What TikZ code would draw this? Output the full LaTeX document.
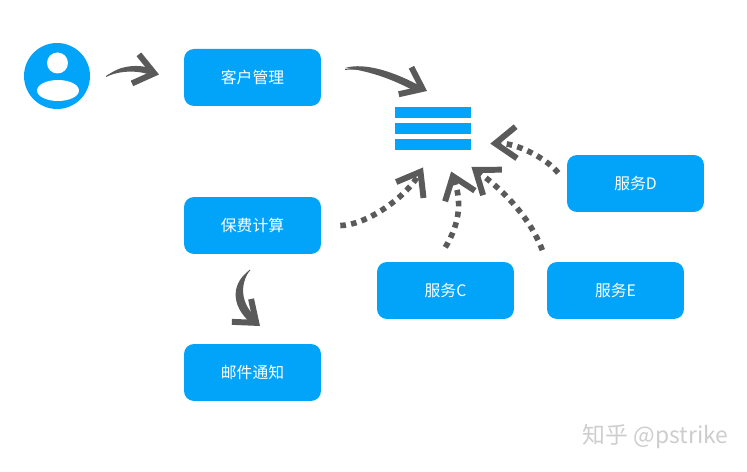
\documentclass[tikz,border=0pt]{standalone}
\usepackage{fontspec}
\usepackage{tikz}
\usetikzlibrary{arrows.meta,shapes.geometric}
\newfontfamily\cjk{Noto Sans CJK SC}
\definecolor{boxblue}{HTML}{02A4FA}
\definecolor{ink}{HTML}{5A5A5A}
\definecolor{markgray}{HTML}{CDCDCD}
\tikzset{
  servicebox/.style={fill=boxblue,rounded corners=0.2cm,minimum width=2.74cm,minimum height=1.14cm,inner sep=0pt,text=white,font=\cjk\fontsize{9}{11}\selectfont},
  barnode/.style={fill=boxblue,minimum width=1.52cm,minimum height=0.22cm,inner sep=0pt},
  dotarrow/.style={draw=ink,line width=3.2pt,dash pattern=on 3.2pt off 3pt,-{Straight Barb[length=12pt,width=18pt,line width=3.4pt]}},
  inkarrow/.style={draw=ink,line width=0.5pt,-{Straight Barb[length=11pt,width=17pt,line width=3.4pt]}},
  inkwedge/.style={fill=ink},
}
\begin{document}
\begin{tikzpicture}[x=0.02cm,y=-0.02cm]
\useasboundingbox (0,0) rectangle (747,472);
% user icon
\node[circle,fill=boxblue,minimum size=1.32cm,inner sep=0pt] (user) at (57,76) {};
\node[circle,fill=white,minimum size=0.42cm,inner sep=0pt] (head) at (57.5,63) {};
\node[ellipse,fill=white,minimum width=0.84cm,minimum height=0.42cm,inner sep=0pt] (body) at (58,90.5) {};
% boxes
\node[servicebox] (custbox) at (252.5,77.5) {客户管理};
\node[servicebox] (feebox) at (252.5,225.5) {保费计算};
\node[servicebox] (mailbox) at (252.5,372.5) {邮件通知};
\node[servicebox] (boxc) at (445.5,290.5) {服务C};
\node[servicebox] (boxe) at (615.5,290.5) {服务E};
\node[servicebox] (boxd) at (635.5,183.5) {服务D};
% queue
\node[barnode] (bar1) at (433,112.5) {};
\node[barnode] (bar2) at (433,128.5) {};
\node[barnode] (bar3) at (433,144.5) {};
% solid arrows
\coordinate (usertail) at (106,76.5);
\coordinate (custtip) at (159,74.5);
\draw[inkarrow] (usertail) .. controls (119,67.5) and (138,69.5) .. (custtip);
\fill[inkwedge] (106,77) .. controls (118,65) and (140,63) .. (155,70) -- (153,76) .. controls (140,70) and (120,70) .. cycle;
\coordinate (custtail) at (345,69.5);
\coordinate (quetip) at (427,91);
\draw[inkarrow] (custtail) .. controls (365,67) and (395,76) .. (quetip);
\fill[inkwedge] (345,68) .. controls (365,62) and (395,72) .. (422,87) -- (418,93) .. controls (395,80) and (370,71) .. cycle;
\coordinate (feetail) at (250,270);
\coordinate (mailtip) at (260,326);
\draw[inkarrow] (feetail) .. controls (236,283) and (235,305) .. (mailtip);
\fill[inkwedge] (250,270) .. controls (232,282) and (229,305) .. (252,324) -- (257,318) .. controls (241,305) and (239,285) .. cycle;
% dotted arrows
\draw[dotarrow,shorten <=10.8pt,shorten >=11.3pt] (feebox.east) .. controls +(44,0) and +(-28,48) .. (bar3.south);
\draw[dotarrow,shorten <=9.5pt,shorten >=12.8pt] ([xshift=-5pt]boxc.north) .. controls +(24,-40) and +(18,50) .. ([xshift=6pt]bar3.south);
\draw[dotarrow,shorten <=7pt,shorten >=16pt] (boxe.north west) .. controls +(-12,-32) and +(68,50) .. ([xshift=9pt]bar3.south);
\draw[dotarrow,shorten <=7.7pt,shorten >=10.8pt] (boxd.west) .. controls +(-20,-25) and +(45,-2) .. (bar3.east);
% watermark
\node[text=markgray,font=\cjk\fontsize{13}{15}\selectfont,inner sep=0pt] (mark) at (655.5,437) {知乎 @pstrike};
\end{tikzpicture}
\end{document}
